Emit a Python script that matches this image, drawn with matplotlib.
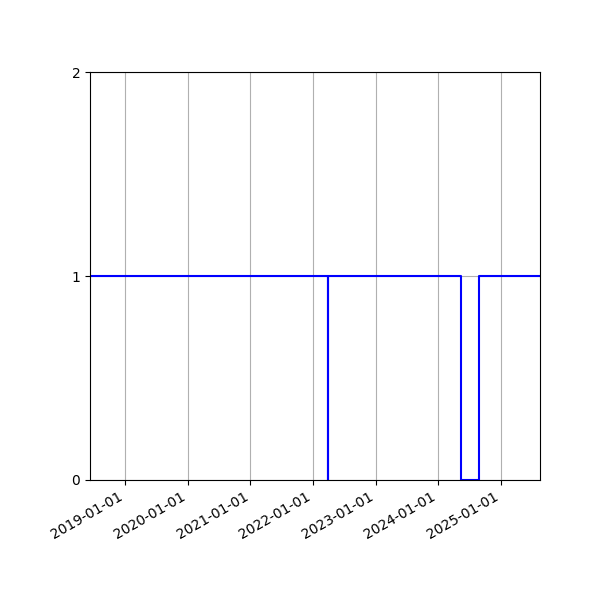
import matplotlib
matplotlib.use("Agg")
import matplotlib.pyplot as plt
import matplotlib.dates as mdates
import numpy as np

dates = np.array(
    ["2018-06-11", "2022-03-31", "2022-04-01", "2024-05-13", "2024-08-24", "2025-08-16"],
    dtype="datetime64[D]",
)
values = [1, 0, 1, 0, 1, 1]

fig, ax = plt.subplots(figsize=(6, 6), dpi=100)
fig.subplots_adjust(left=0.15, right=0.9, top=0.88)
ax.step(dates, values, where="post", color="blue")
ax.set_xlim(dates[0], dates[-1])
ax.set_ylim(0, 2)
ax.set_yticks([0, 1, 2])
ax.xaxis.set_major_locator(mdates.YearLocator())
ax.xaxis.set_major_formatter(mdates.DateFormatter("%Y-%m-%d"))
ax.grid(True)
fig.autofmt_xdate()
fig.savefig("out.png")
